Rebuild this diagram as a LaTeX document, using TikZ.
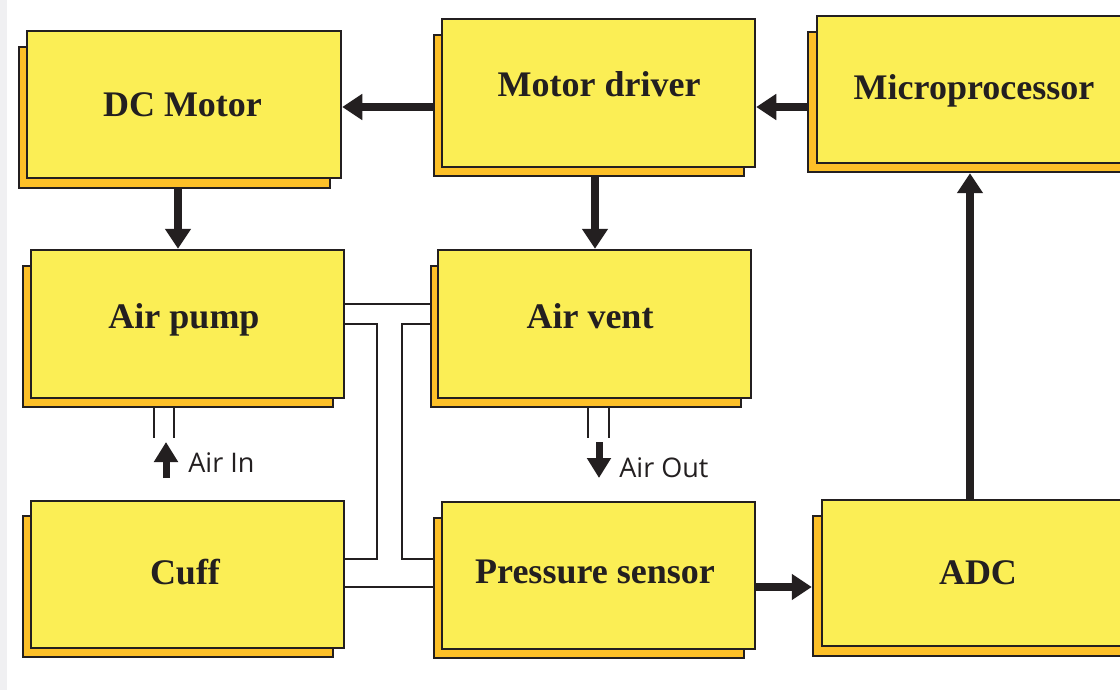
\documentclass[tikz,border=0pt]{standalone}
\usepackage{fontspec}
\setmainfont{Liberation Serif}
\newfontfamily\airfont{Open Sans}
\usetikzlibrary{arrows.meta,fit}
\definecolor{frontY}{RGB}{251,238,85}
\definecolor{backO}{RGB}{253,192,40}
\definecolor{edge}{RGB}{35,31,32}
\definecolor{stripe}{RGB}{240,240,242}
\tikzset{
  frontbox/.style={draw=edge, line width=1.25pt, fill=frontY, inner sep=0pt},
  backbox/.style={draw=edge, line width=1.25pt, fill=backO, inner sep=0pt},
  lbl/.style={font=\fontsize{18}{20}\selectfont\bfseries, text=edge, inner sep=0pt, anchor=base},
  bigarrow/.style={draw=edge, line width=3.8pt, -{Triangle[length=10pt,width=12.5pt]}},
  pipe/.style={draw=edge, line width=0.9pt},
  airarrow/.style={draw=edge, line width=3.5pt, -{Triangle[length=10pt,width=11.5pt]}},
  airlbl/.style={font=\airfont\fontsize{13.5}{15}\selectfont, text=edge, inner sep=0pt, anchor=base west},
}
\begin{document}
\begin{tikzpicture}[x=0.5pt,y=-0.5pt]
\useasboundingbox (0,0) rectangle (1120,690);
\clip (0,0) rectangle (1120,690);
\fill[white] (0,0) rectangle (1120,690);
\fill[stripe] (0,0) rectangle (7,690);

% back boxes
\node[backbox, fit={(19,47)(330,188)}] (dcb) {};
\node[backbox, fit={(434,35)(744,176)}] (mdb) {};
\node[backbox, fit={(808,32)(1123,172)}] (mpb) {};
\node[backbox, fit={(23,266)(333,407)}] (apb) {};
\node[backbox, fit={(431,266)(741,407)}] (avb) {};
\node[backbox, fit={(23,516)(333,657)}] (cfb) {};
\node[backbox, fit={(434,518)(744,658)}] (psb) {};
\node[backbox, fit={(813,516)(1124,656)}] (adcb) {};

% front boxes
\node[frontbox, fit={(27,31)(341,178)}] (dc) {};
\node[frontbox, fit={(442,19)(755,167)}] (md) {};
\node[frontbox, fit={(817,16)(1132,163)}] (mp) {};
\node[frontbox, fit={(31,250)(344,398)}] (ap) {};
\node[frontbox, fit={(438,250)(751,398)}] (av) {};
\node[frontbox, fit={(31,501)(344,648)}] (cf) {};
\node[frontbox, fit={(442,502)(755,649)}] (ps) {};
\node[frontbox, fit={(822,500)(1134,646)}] (adc) {};

% labels
\node[lbl] (tdc) at (182.5,117) {DC Motor};
\node[lbl] (tmd) at (599,97) {Motor driver};
\node[lbl] (tmp) at (974,100) {Microprocessor};
\node[lbl] (tap) at (184,328) {Air pump};
\node[lbl] (tav) at (590,328) {Air vent};
\node[lbl] (tcf) at (185,584) {Cuff};
\node[lbl] (tps) at (595,583) {Pressure sensor};
\node[lbl] (tadc) at (978,584) {ADC};

% helper coordinates
\coordinate (r107) at (0,107);
\coordinate (r304) at (0,304);
\coordinate (r324) at (0,324);
\coordinate (r559) at (0,559);
\coordinate (r587) at (0,587);
\coordinate (c178) at (178,0);
\coordinate (c595) at (595,0);
\coordinate (c970) at (970,0);
\coordinate (pL) at (377,0);
\coordinate (pR) at (402,0);

% signal arrows
\draw[bigarrow] (mdb.west |- r107) -- (dc.east |- r107);
\draw[bigarrow] (mpb.west |- r107) -- (md.east |- r107);
\draw[bigarrow] (dcb.south -| c178) -- (ap.north -| c178);
\draw[bigarrow] (mdb.south -| c595) -- (av.north -| c595);
\draw[bigarrow] (ps.east |- r587) -- (adcb.west |- r587);
\draw[bigarrow] (adc.north -| c970) -- (mpb.south -| c970);

% air tubes
\draw[pipe] (ap.east |- r304) -- (avb.west |- r304);
\draw[pipe] (ap.east |- r324) -| (pL |- r559) -- (cf.east |- r559);
\draw[pipe] (avb.west |- r324) -| (pR |- r559) -- (psb.west |- r559);
\draw[pipe] (cf.east |- r587) -- (psb.west |- r587);

% air in
\coordinate (ai1) at (154,438);
\coordinate (ai2) at (174,438);
\coordinate (ait) at (166,442);
\coordinate (aib) at (166,478);
\draw[pipe] (apb.south -| ai1) -- (ai1);
\draw[pipe] (apb.south -| ai2) -- (ai2);
\draw[airarrow] (aib) -- (ait);
\node[airlbl] (tain) at (188,472) {Air In};

% air out
\coordinate (ao1) at (588,438);
\coordinate (ao2) at (609,438);
\coordinate (aot) at (599,442);
\coordinate (aob) at (599,478);
\draw[pipe] (avb.south -| ao1) -- (ao1);
\draw[pipe] (avb.south -| ao2) -- (ao2);
\draw[airarrow] (aot) -- (aob);
\node[airlbl] (taout) at (619,477) {Air Out};
\end{tikzpicture}
\end{document}
